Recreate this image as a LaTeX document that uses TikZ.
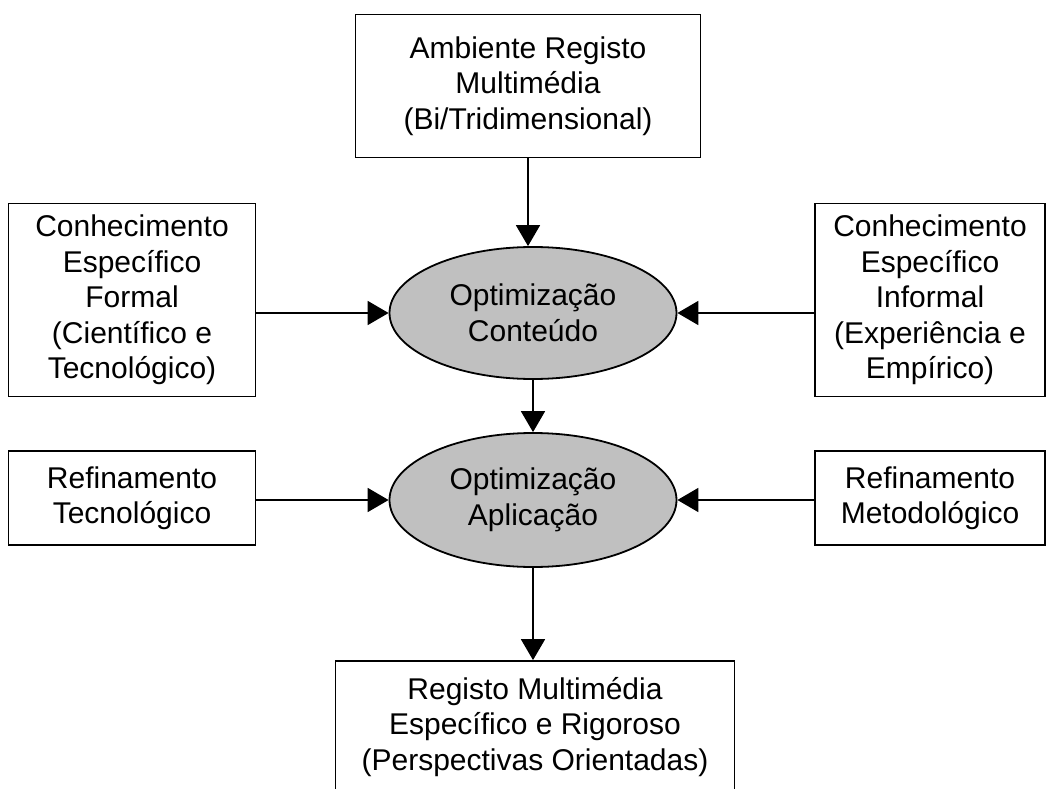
\documentclass[tikz,border=0pt]{standalone}
\usepackage{fontspec}
\setmainfont{Liberation Sans}
\usetikzlibrary{shapes.geometric,arrows.meta}

\definecolor{optgray}{RGB}{192,192,192}

\tikzset{
  box/.style={draw, rectangle, align=center, inner sep=0pt, line width=1.8pt},
  opt/.style={draw, ellipse, fill=optgray, align=center, inner sep=0pt, line width=1.8pt},
  flow/.style={-{Triangle[length=21pt,width=24pt]}, line width=1.8pt}
}

\begin{document}
\begin{tikzpicture}[x=1pt, y=-1pt, font=\fontsize{30}{35.5}\selectfont]

\useasboundingbox (0,0) rectangle (1053,789);
\clip (0,0) rectangle (1053,789);

\node [box, minimum width=345pt, minimum height=143pt] (amb) at (528,86) {Ambiente Registo\\Multimédia\\(Bi/Tridimensional)};

\node [opt, minimum width=287pt, minimum height=132pt] (cont) at (533,313) {Optimização\\Conteúdo};
\node [box, minimum width=247pt, minimum height=193pt] (formal) at (132,300) {Conhecimento\\Específico\\Formal\\(Científico e\\Tecnológico)};
\node [box, minimum width=230pt, minimum height=193pt] (informal) at (930,300) {Conhecimento\\Específico\\Informal\\(Experiência e\\Empírico)};

\node [opt, minimum width=287pt, minimum height=134pt] (aplic) at (533,500) {Optimização\\Aplicação};
\node [box, minimum width=247pt, minimum height=94pt] (tecn) at (132,498) {Refinamento\\Tecnológico};
\node [box, minimum width=230pt, minimum height=94pt] (metod) at (930,498) {Refinamento\\Metodológico};

\node [box, minimum width=399pt, minimum height=132pt] (reg) at (535,727) {Registo Multimédia\\Específico e Rigoroso\\(Perspectivas Orientadas)};

\draw [flow] (amb.south) -- (amb.south |- cont.north);
\draw [flow] (formal.east |- cont.west) -- (cont.west);
\draw [flow] (informal.west |- cont.east) -- (cont.east);
\draw [flow] (cont.south) -- (aplic.north);
\draw [flow] (tecn.east |- aplic.west) -- (aplic.west);
\draw [flow] (metod.west |- aplic.east) -- (aplic.east);
\draw [flow] (aplic.south) -- (aplic.south |- reg.north);

\end{tikzpicture}
\end{document}
